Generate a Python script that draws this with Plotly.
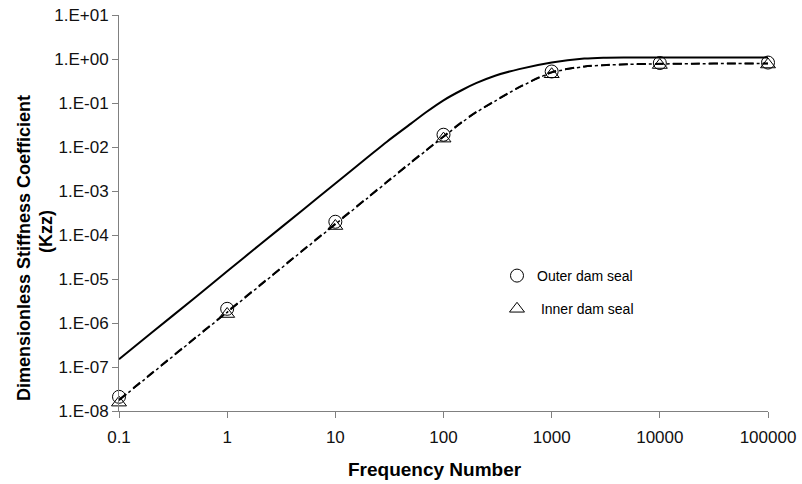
import plotly.graph_objects as go

# Frequency grid for the curves
freq = [0.1, 0.2, 0.5, 1, 2, 5, 10, 20, 30, 50, 70, 100, 150, 200, 300, 500, 1000, 2000,
        3000, 5000, 10000, 20000, 50000, 100000]
# Solid curve
k_solid = [1.5e-7, 6.0e-7, 3.7e-6, 1.5e-5, 6.0e-5, 3.7e-4, 1.48e-3, 5.9e-3, 1.32e-2,
           3.39e-2, 6.31e-2, 0.115, 0.20, 0.282, 0.417, 0.589, 0.832, 1.023, 1.072, 1.084,
           1.084, 1.084, 1.084, 1.084]
# Dashed curves (outer / inner dam seal)
k_outer = [1.8e-8, 7.2e-8, 4.5e-7, 1.8e-6, 7.2e-6, 4.5e-5, 1.8e-4, 7.2e-4, 1.62e-3,
           4.5e-3, 8.7e-3, 1.74e-2, 3.8e-2, 0.062, 0.112, 0.229, 0.50, 0.676, 0.724, 0.759,
           0.776, 0.785, 0.794, 0.794]
k_inner = [1.75e-8, 7.0e-8, 4.4e-7, 1.75e-6, 7.0e-6, 4.4e-5, 1.75e-4, 7.0e-4, 1.58e-3,
           4.4e-3, 8.5e-3, 1.70e-2, 3.7e-2, 0.061, 0.110, 0.226, 0.49, 0.67, 0.72, 0.755,
           0.772, 0.78, 0.79, 0.79]

# Marker points
freq_pts = [0.1, 1, 10, 100, 1000, 10000, 100000]
outer_pts = [2.1e-8, 2.1e-6, 2.0e-4, 1.9e-2, 0.52, 0.81, 0.83]
inner_pts = [1.55e-8, 1.6e-6, 1.6e-4, 1.55e-2, 0.45, 0.73, 0.75]

x_ticks = [0.1, 1, 10, 100, 1000, 10000, 100000]
x_ticktext = ["0.1", "1", "10", "100", "1000", "10000", "100000"]
y_ticks = [1e-8, 1e-7, 1e-6, 1e-5, 1e-4, 1e-3, 1e-2, 1e-1, 1e0, 1e1]
y_ticktext = ["1.E-08", "1.E-07", "1.E-06", "1.E-05", "1.E-04", "1.E-03",
              "1.E-02", "1.E-01", "1.E+00", "1.E+01"]

FONT = "Liberation Sans, Arial, sans-serif"

fig = go.Figure()
fig.add_trace(go.Scatter(x=freq, y=k_solid, mode="lines", showlegend=False,
                         line=dict(color="black", width=2, shape="spline", smoothing=0.8)))
fig.add_trace(go.Scatter(x=freq, y=k_outer, mode="lines", showlegend=False,
                         line=dict(color="black", width=2, dash="dash", shape="spline",
                                   smoothing=0.8)))
fig.add_trace(go.Scatter(x=freq, y=k_inner, mode="lines", showlegend=False,
                         line=dict(color="black", width=1.5, dash="dashdot", shape="spline",
                                   smoothing=0.8)))
fig.add_trace(go.Scatter(x=freq_pts, y=outer_pts, mode="markers", name="Outer dam seal",
                         legendgroup="a",
                         marker=dict(symbol="circle-open", size=13, color="black",
                                     line=dict(width=1, color="black")),
                         cliponaxis=False))
fig.add_trace(go.Scatter(x=freq_pts, y=inner_pts, mode="markers", name="\u00a0Inner dam seal",
                         legendgroup="b",
                         marker=dict(symbol="triangle-up-open", size=13, color="black",
                                     line=dict(width=1, color="black")),
                         cliponaxis=False))

L, R, T, B = 119, 34, 15, 73
W, H = 802, 484
pw = W - L - R
ph = H - T - B

fig.update_layout(
    width=W, height=H,
    margin=dict(l=L, r=R, t=T, b=B),
    paper_bgcolor="white", plot_bgcolor="white",
    font=dict(family=FONT, size=17, color="black"),
    legend=dict(x=(497 - L) / pw, y=1 - (260 - T) / ph, xanchor="left", yanchor="top",
                bgcolor="rgba(0,0,0,0)", font=dict(size=14, family=FONT),
                traceorder="grouped", tracegroupgap=12),
    xaxis=dict(type="log", range=[-1, 5], tickvals=x_ticks, ticktext=x_ticktext,
               showgrid=False, zeroline=False, showline=True, linecolor="#808080",
               linewidth=1, ticks="outside", ticklen=6, tickcolor="#808080",
               ticklabelstandoff=5, automargin=False,
               tickfont=dict(size=17, color="#111")),
    yaxis=dict(type="log", range=[-8, 1], tickvals=y_ticks, ticktext=y_ticktext,
               showgrid=False, zeroline=False, showline=True, linecolor="#808080",
               linewidth=1, ticks="outside", ticklen=6, tickcolor="#808080",
               automargin=False,
               tickfont=dict(size=17, color="#111")),
    annotations=[
        dict(text="<b>Frequency Number</b>", xref="paper", yref="paper",
             x=(435 - L) / pw, y=1 - (469 - T) / ph, xanchor="center", yanchor="middle",
             showarrow=False, font=dict(size=19, family=FONT)),
        dict(text="<b>Dimensionless Stiffness Coefficient</b>", xref="paper",
             yref="paper", x=(24 - L) / pw, y=1 - (248 - T) / ph, xanchor="center",
             yanchor="middle", textangle=-90, showarrow=False,
             font=dict(size=18, family=FONT)),
        dict(text="<b>(Kzz)</b>", xref="paper",
             yref="paper", x=(46 - L) / pw, y=1 - (232 - T) / ph, xanchor="center",
             yanchor="middle", textangle=-90, showarrow=False,
             font=dict(size=18, family=FONT)),
    ],
)

fig.write_html("out.html")
